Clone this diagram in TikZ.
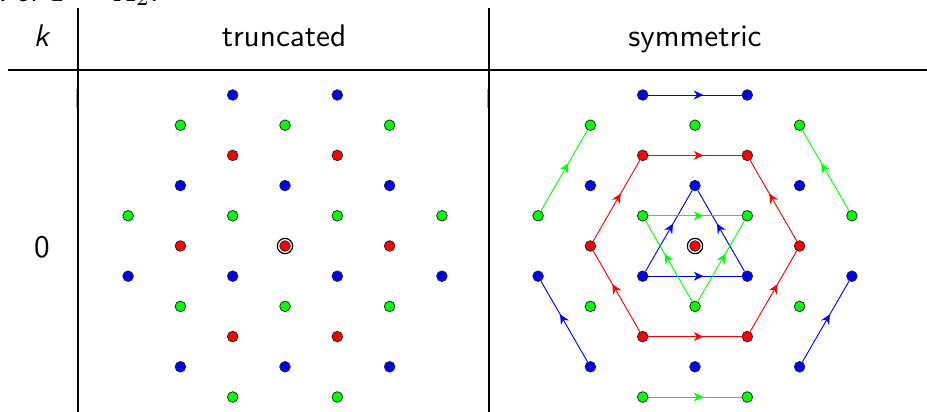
\documentclass[tikz,border=0pt]{standalone}
\usetikzlibrary{arrows.meta,decorations.markings}
\begin{document}
\begin{tikzpicture}[x=0.32pt,y=-0.32pt,
  dot/.style={circle,draw=black!85,line width=0.25pt,inner sep=0pt,minimum size=3.4pt},
  ring/.style={circle,draw=black,line width=0.38pt,inner sep=0pt,minimum size=4.9pt},
  rule/.style={line width=0.4pt,black},
  shade/.style={line width=0.5pt,black!35},
  midarrow/.style={line width=0.3pt,postaction={decorate},
    decoration={markings,mark=at position 0.59 with {\arrow{Stealth[length=3.1pt,width=2.9pt,inset=1pt]}}}},
  lbl/.style={font=\sffamily\fontsize{10}{12}\selectfont,inner sep=0pt}
]
\useasboundingbox (0,0) rectangle (927,412);

% clipped title fragment
\node[lbl,anchor=base west] (title) at (-2,1.2) {For $\Gamma = A_2$.};

% table rules
\coordinate (v1t) at (78,8);   \coordinate (v1b) at (78,412);
\coordinate (v2t) at (489,8);  \coordinate (v2b) at (489,412);
\coordinate (hl) at (8,70);    \coordinate (hr) at (927,70);
\coordinate (g1t) at (76.6,89); \coordinate (g1b) at (76.6,108);
\coordinate (g2t) at (487.6,89); \coordinate (g2b) at (487.6,108);
\draw[shade] (g1t) -- (g1b);
\draw[shade] (g2t) -- (g2b);
\draw[rule] (v1t) -- (v1b);
\draw[rule] (v2t) -- (v2b);
\draw[rule] (hl) -- (hr);

% headers
\node[lbl,anchor=base] (hk) at (42,46) {\textit{k}};
\node[lbl,anchor=base] (ht) at (284,46) {truncated};
\node[lbl,anchor=base] (hs) at (695,46) {symmetric};
\node[lbl,anchor=base] (k0) at (42,257) {0};

% lattice dots
\foreach \j/\is/\c in {5/{-1,1}/blue, 4/{-2,0,2}/green, 3/{-1,1}/red, 2/{-2,0,2}/blue,
  1/{-3,-1,1,3}/green, 0/{-2,0,2}/red, -1/{-3,-1,1,3}/blue, -2/{-2,0,2}/green,
  -3/{-1,1}/red, -4/{-2,0,2}/blue, -5/{-1,1}/green}{
  \foreach \i in \is {
    \node[dot,fill=\c] (L\i y\j) at ({285+\i*52.3},{246-\j*30.2}) {};
    \node[dot,fill=\c] (R\i y\j) at ({695+\i*52.3},{246-\j*30.2}) {};
  }
}
\node[ring] (Lring) at (L0y0) {};
\node[ring] (Rring) at (R0y0) {};

% blue orbits
\draw[blue,midarrow] (R-1y5) -- (R1y5);
\draw[blue,midarrow] (R-2y-4) -- (R-3y-1);
\draw[blue,midarrow] (R2y-4) -- (R3y-1);
\draw[blue,midarrow] (R-1y-1) -- (R1y-1);
\draw[blue,midarrow] (R-1y-1) -- (R0y2);
\draw[blue,midarrow] (R1y-1) -- (R0y2);
% green orbits
\draw[green,midarrow] (R-1y-5) -- (R1y-5);
\draw[green,midarrow] (R-3y1) -- (R-2y4);
\draw[green,midarrow] (R3y1) -- (R2y4);
\draw[green,midarrow] (R-1y1) -- (R1y1);
\draw[green,midarrow] (R0y-2) -- (R-1y1);
\draw[green,midarrow] (R0y-2) -- (R1y1);
% red hexagon
\draw[red,midarrow] (R-1y3) -- (R1y3);
\draw[red,midarrow] (R-2y0) -- (R-1y3);
\draw[red,midarrow] (R2y0) -- (R1y3);
\draw[red,midarrow] (R-1y-3) -- (R1y-3);
\draw[red,midarrow] (R-1y-3) -- (R-2y0);
\draw[red,midarrow] (R1y-3) -- (R2y0);
\end{tikzpicture}
\end{document}
